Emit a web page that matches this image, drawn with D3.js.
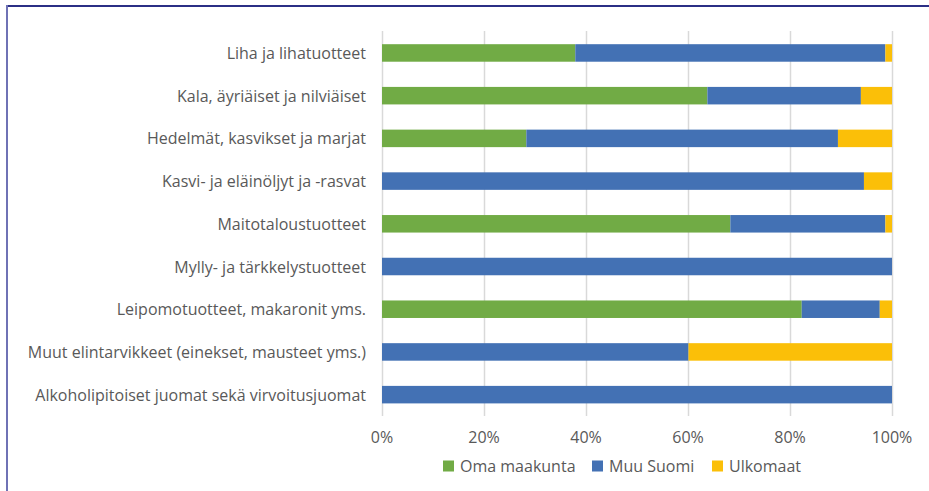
<!DOCTYPE html>
<html><head><meta charset="utf-8">
<script src="https://cdn.jsdelivr.net/npm/d3@7"></script>
<style>
html,body{margin:0;padding:0;background:#fff;}
svg{display:block;}
text{font-family:"Open Sans", Lato, sans-serif;fill:#595959;}
</style></head>
<body>
<svg id="c" width="929" height="491"></svg>
<script>
const categories = [
  "Liha ja lihatuotteet",
  "Kala, äyriäiset ja nilviäiset",
  "Hedelmät, kasvikset ja marjat",
  "Kasvi- ja eläinöljyt ja -rasvat",
  "Maitotaloustuotteet",
  "Mylly- ja tärkkelystuotteet",
  "Leipomotuotteet, makaronit yms.",
  "Muut elintarvikkeet (einekset, mausteet yms.)",
  "Alkoholipitoiset juomat sekä virvoitusjuomat"
];
const seriesNames = ["Oma maakunta", "Muu Suomi", "Ulkomaat"];
const omaMaakunta = [37.9, 63.8, 28.3, 0, 68.3, 0, 82.3, 0, 0];
const muuSuomi    = [60.8, 30.1, 61.1, 94.5, 30.4, 100, 15.3, 60.1, 100];
const ulkomaat    = [1.3, 6.1, 10.6, 5.5, 1.3, 0, 2.4, 39.9, 0];
const tickValues = [0, 20, 40, 60, 80, 100];
const colors = ["#71AB45", "#4371B4", "#FBBF08"];

const svg = d3.select("#c");
// frame
svg.append("line").attr("x1",6).attr("x2",929).attr("y1",6).attr("y2",6)
  .attr("stroke","#2b2f85").attr("stroke-width",2);
svg.append("line").attr("x1",7).attr("x2",7).attr("y1",5).attr("y2",491)
  .attr("stroke","#6f72b5").attr("stroke-width",2);

const x = d3.scaleLinear().domain([0,100]).range([382, 892]);
const y = d3.scaleBand().domain(categories).range([31.6, 416]).paddingInner(0.59).paddingOuter(0.295);

// gridlines
svg.append("g").selectAll("line").data(tickValues).join("line")
  .attr("x1", d=>x(d)+0.5).attr("x2", d=>x(d)+0.5)
  .attr("y1", 31).attr("y2", 416)
  .attr("stroke", "#d9d9d9").attr("stroke-width", 1.5);

const rows = categories.map((c,i)=>({cat:c, v:[omaMaakunta[i], muuSuomi[i], ulkomaat[i]]}));
const stack = d3.stack().keys([0,1,2]).value((d,k)=>d.v[k]);
const layers = stack(rows);
svg.append("g").selectAll("g").data(layers).join("g")
  .attr("fill", (d,i)=>colors[i])
  .selectAll("rect").data(d=>d.map(p=>({p, cat:p.data.cat}))).join("rect")
  .attr("x", d=>x(d.p[0]))
  .attr("width", d=>Math.max(0, x(d.p[1])-x(d.p[0])))
  .attr("y", d=>y(d.cat))
  .attr("height", y.bandwidth());

// category labels
svg.append("g").selectAll("text").data(categories).join("text")
  .attr("x", 366).attr("y", d=>y(d)+y.bandwidth()/2)
  .attr("text-anchor","end").attr("dominant-baseline","central")
  .style("font-size","16px").text(d=>d);

// x tick labels
svg.append("g").selectAll("text").data(tickValues).join("text")
  .attr("x", d=>x(d)).attr("y", 437)
  .attr("text-anchor","middle").attr("dominant-baseline","central")
  .style("font-size","16px").text(d=>d+"%");

// legend
const legX = [443, 592, 712];
const lg = svg.append("g").selectAll("g").data(seriesNames).join("g")
  .attr("transform", (d,i)=>`translate(${legX[i]},466)`);
lg.append("rect").attr("x",0).attr("y",-5.5).attr("width",11).attr("height",11)
  .attr("fill",(d,i)=>colors[i]);
lg.append("text").attr("x",17).attr("y",0).attr("dominant-baseline","central")
  .style("font-size","16px").text(d=>d);
</script>
</body></html>
